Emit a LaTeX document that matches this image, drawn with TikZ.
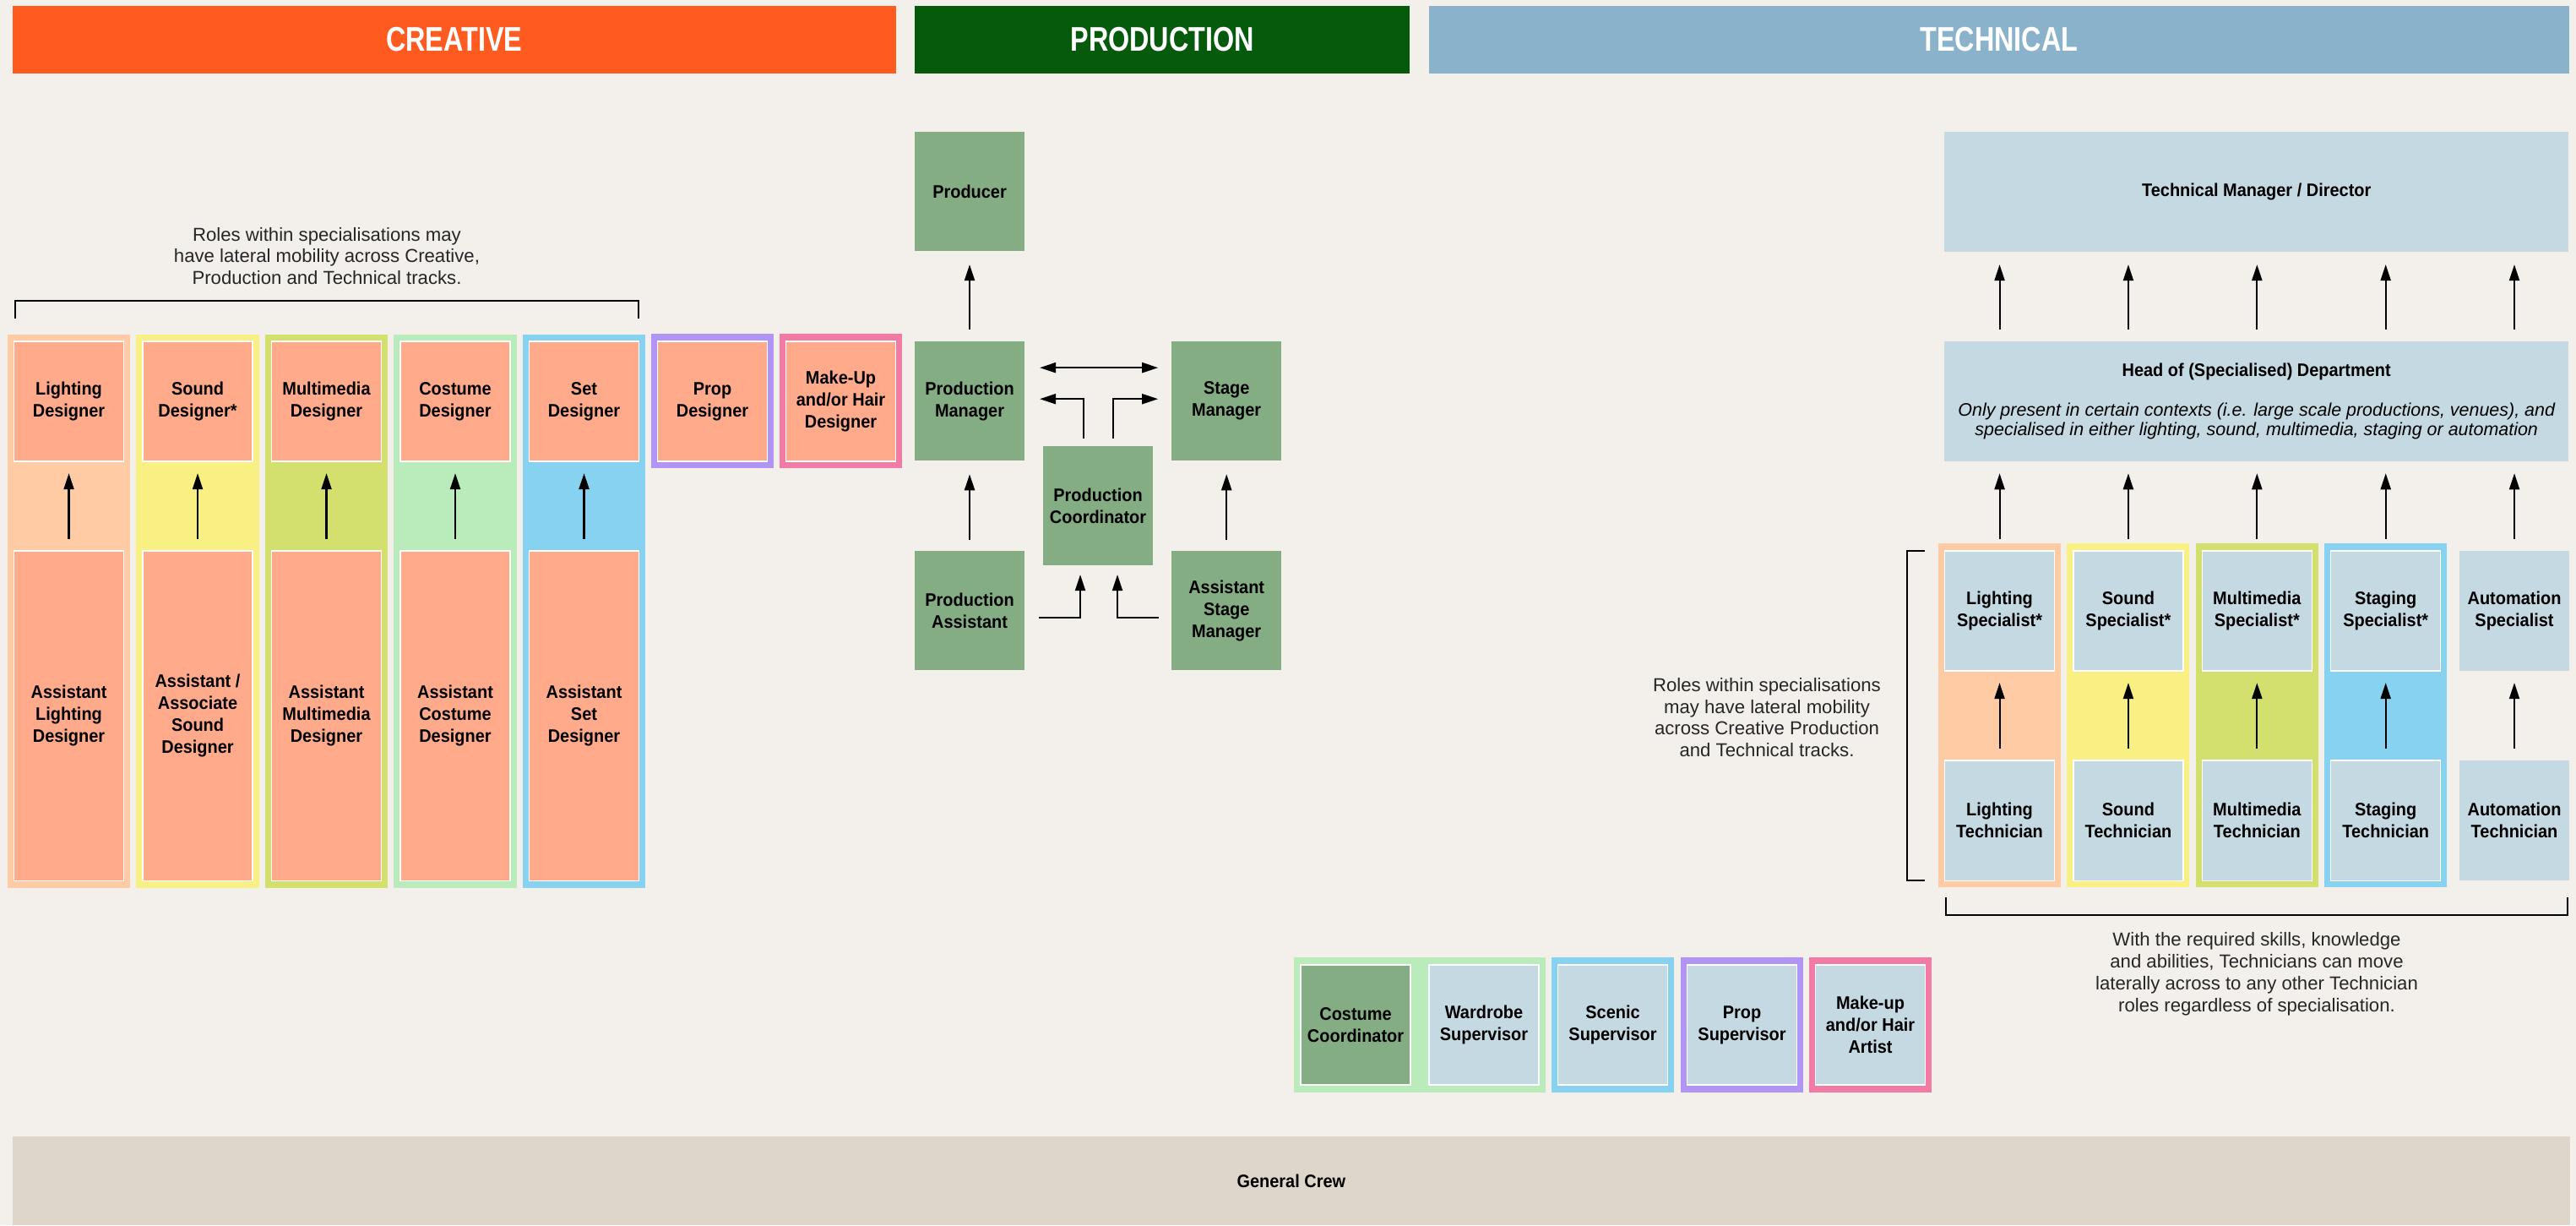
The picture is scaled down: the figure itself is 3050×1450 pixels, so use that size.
\documentclass[tikz,border=0pt]{standalone}
\usepackage{fontspec}
\setmainfont{Liberation Sans}[BoldFeatures={FakeStretch=0.93}]
\newfontfamily\headfont{Liberation Sans}[FakeStretch=0.8]
\usetikzlibrary{positioning}
\usetikzlibrary{arrows.meta}

\definecolor{paper}{HTML}{F3F0EB}
\definecolor{creative}{HTML}{FF5A1F}
\definecolor{production}{HTML}{065A0C}
\definecolor{technical}{HTML}{8AB2CB}
\definecolor{salmon}{HTML}{FFAA8A}
\definecolor{prodgreen}{HTML}{84AD84}
\definecolor{techblue}{HTML}{C4D9E2}
\definecolor{lgtfill}{HTML}{FFCBA4}
\definecolor{sndfill}{HTML}{F8F083}
\definecolor{mmfill}{HTML}{D4E06E}
\definecolor{cstfill}{HTML}{B9EBBB}
\definecolor{setfill}{HTML}{87D2F0}
\definecolor{propfill}{HTML}{B095F7}
\definecolor{mkfill}{HTML}{F27BA5}
\definecolor{crewfill}{HTML}{DED6CA}

\newcommand{\lblfont}{\fontsize{6.1}{7.4}\selectfont\bfseries}
\newcommand{\notefont}{\fontsize{6.3}{7.35}\selectfont}

\begin{document}
\begin{tikzpicture}[x=0.01cm, y=-0.01cm,
    every node/.style={inner sep=0pt, outer sep=0pt, align=center, text=black},
    head/.style={fill=#1, text=white, anchor=north west, minimum height=0.8cm,
        font=\headfont\bfseries\fontsize{11.5}{13}\selectfont},
    colbg/.style={fill=#1, anchor=north west, minimum width=1.45cm},
    role/.style={fill=#1, draw=white, line width=0.4pt, minimum width=1.3cm, minimum height=1.42cm, font=\lblfont},
    prodbox/.style={fill=prodgreen, minimum width=1.3cm, minimum height=1.41cm, font=\lblfont},
    techbox/.style={fill=techblue, minimum height=1.42cm, font=\lblfont},
    note/.style={font=\notefont, text=black!85},
    arr/.style={-{Triangle[length=0.19cm,width=0.12cm]}, line width=0.6pt},
    brk/.style={line width=0.8pt}]
    \useasboundingbox (0,0) rectangle (3050,1450);
    \fill[paper] (0,0) rectangle (3050,1450);
    % headers
    \node[head=creative, minimum width=10.45cm] (hcreative) at (15,7) {CREATIVE};
    \node[head=production, minimum width=5.86cm] (hproduction) at (1083,7) {PRODUCTION};
    \node[head=technical, minimum width=13.49cm] (htechnical) at (1692,7) {TECHNICAL};
%     % creative
    \node[note] (crenote) at (387,303) {Roles within specialisations may\\have lateral mobility across Creative,\\Production and Technical tracks.};
    \draw[brk] (18,377) -- (18,356) -- (756,356) -- (756,377);
    \node[colbg=lgtfill, minimum height=6.55cm] (lgtcol) at (9,396) {};
    \node[colbg=sndfill, minimum height=6.55cm, right=0.074cm of lgtcol] (sndcol) {};
    \node[colbg=mmfill, minimum height=6.55cm, right=0.074cm of sndcol] (mmcol) {};
    \node[colbg=cstfill, minimum height=6.55cm, right=0.074cm of mmcol] (cstcol) {};
    \node[colbg=setfill, minimum height=6.55cm, right=0.074cm of cstcol] (setcol) {};
    \node[role=salmon, below=0.08cm of lgtcol.north] (lgtdes) {Lighting\\Designer};
    \node[role=salmon, below=0.08cm of sndcol.north] (snddes) {Sound\\Designer*};
    \node[role=salmon, below=0.08cm of mmcol.north] (mmdes) {Multimedia\\Designer};
    \node[role=salmon, below=0.08cm of cstcol.north] (cstdes) {Costume\\Designer};
    \node[role=salmon, below=0.08cm of setcol.north] (setdes) {Set\\Designer};
    \node[role=salmon, minimum height=3.9cm, above=0.09cm of lgtcol.south] (lgtasst) {Assistant\\Lighting\\Designer};
    \node[role=salmon, minimum height=3.9cm, above=0.09cm of sndcol.south] (sndasst) {Assistant /\\Associate\\Sound\\Designer};
    \node[role=salmon, minimum height=3.9cm, above=0.09cm of mmcol.south] (mmasst) {Assistant\\Multimedia\\Designer};
    \node[role=salmon, minimum height=3.9cm, above=0.09cm of cstcol.south] (cstasst) {Assistant\\Costume\\Designer};
    \node[role=salmon, minimum height=3.9cm, above=0.09cm of setcol.south] (setasst) {Assistant\\Set\\Designer};
    \draw[arr] ([yshift=0.14cm]lgtasst.north) -- ([yshift=-0.14cm]lgtdes.south);
    \draw[arr] ([yshift=0.14cm]sndasst.north) -- ([yshift=-0.14cm]snddes.south);
    \draw[arr] ([yshift=0.14cm]mmasst.north) -- ([yshift=-0.14cm]mmdes.south);
    \draw[arr] ([yshift=0.14cm]cstasst.north) -- ([yshift=-0.14cm]cstdes.south);
    \draw[arr] ([yshift=0.14cm]setasst.north) -- ([yshift=-0.14cm]setdes.south);
    \node[colbg=propfill, minimum height=1.59cm] (propbg) at (771,395) {};
    \node[role=salmon, below=0.09cm of propbg.north] (propdes) {Prop\\Designer};
    \node[colbg=mkfill, minimum height=1.59cm] (mkbg) at (923,395) {};
    \node[role=salmon, below=0.09cm of mkbg.north] (mkdes) {Make-Up\\and/or Hair\\Designer};
%     % production
    \node[prodbox, anchor=north west] (producer) at (1083,156) {Producer};
    \node[prodbox, below=1.07cm of producer] (pm) {Production\\Manager};
    \node[prodbox, below=1.07cm of pm] (pa) {Production\\Assistant};
    \node[prodbox, right=1.74cm of pm] (sm) {Stage\\Manager};
    \node[prodbox, right=1.74cm of pa] (asm) {Assistant\\Stage\\Manager};
    \node[prodbox, anchor=north west] (pc) at (1235,528) {Production\\Coordinator};
    \draw[arr] ([yshift=0.14cm]pm.north) -- ([yshift=-0.16cm]producer.south);
    \draw[arr] ([yshift=0.13cm]pa.north) -- ([yshift=-0.16cm]pm.south);
    \draw[arr] ([yshift=0.13cm]asm.north) -- ([yshift=-0.16cm]sm.south);
    \draw[{Triangle[length=0.19cm,width=0.12cm]}-{Triangle[length=0.19cm,width=0.12cm]}, line width=0.6pt] ([shift={(0.18cm,0.395cm)}]pm.east) -- ([shift={(-0.16cm,0.395cm)}]sm.west);
    \draw[arr] ([shift={(-0.17cm,0.09cm)}]pc.north) |- ([shift={(0.18cm,0.025cm)}]pm.east);
    \draw[arr] ([shift={(0.18cm,0.09cm)}]pc.north) |- ([shift={(-0.16cm,0.025cm)}]sm.west);
    \draw[arr] ([shift={(0.17cm,-0.085cm)}]pa.east) -| ([shift={(-0.21cm,-0.11cm)}]pc.south);
    \draw[arr] ([shift={(-0.15cm,-0.085cm)}]asm.west) -| ([shift={(0.23cm,-0.11cm)}]pc.south);
%     % technical
    \node[techbox, anchor=north west, minimum width=7.39cm] (tmd) at (2302,156) {Technical Manager / Director};
    \node[techbox, minimum width=7.39cm, below=1.06cm of tmd, font=\fontsize{6.1}{6.6}\selectfont] (hod) {\textbf{Head of (Specialised) Department}\\[6.8pt]{\itshape Only present in certain contexts (i.e. large scale productions, venues), and}\\{\itshape specialised in either lighting, sound, multimedia, staging or automation}};
    \node[colbg=lgtfill, minimum height=4.07cm] (tlgtcol) at (2295,643) {};
    \node[colbg=sndfill, minimum height=4.07cm, right=0.073cm of tlgtcol] (tsndcol) {};
    \node[colbg=mmfill, minimum height=4.07cm, right=0.073cm of tsndcol] (tmmcol) {};
    \node[colbg=setfill, minimum height=4.07cm, right=0.073cm of tmmcol] (tstgcol) {};
    \node[role=techblue, below=0.09cm of tlgtcol.north] (lgtspec) {Lighting\\Specialist*};
    \node[role=techblue, below=0.09cm of tsndcol.north] (sndspec) {Sound\\Specialist*};
    \node[role=techblue, below=0.09cm of tmmcol.north] (mmspec) {Multimedia\\Specialist*};
    \node[role=techblue, below=0.09cm of tstgcol.north] (stgspec) {Staging\\Specialist*};
    \node[techbox, minimum width=1.3cm, anchor=north west] (autospec) at (2912,652) {Automation\\Specialist};
    \node[role=techblue, above=0.08cm of tlgtcol.south] (lgttech) {Lighting\\Technician};
    \node[role=techblue, above=0.08cm of tsndcol.south] (sndtech) {Sound\\Technician};
    \node[role=techblue, above=0.08cm of tmmcol.south] (mmtech) {Multimedia\\Technician};
    \node[role=techblue, above=0.08cm of tstgcol.south] (stgtech) {Staging\\Technician};
    \node[techbox, minimum width=1.3cm, anchor=north west] (autotech) at (2912,900) {Automation\\Technician};
    \draw[arr] ([yshift=0.14cm]lgttech.north) -- ([yshift=-0.14cm]lgtspec.south);
    \draw[arr] ([yshift=0.14cm]sndtech.north) -- ([yshift=-0.14cm]sndspec.south);
    \draw[arr] ([yshift=0.14cm]mmtech.north) -- ([yshift=-0.14cm]mmspec.south);
    \draw[arr] ([yshift=0.14cm]stgtech.north) -- ([yshift=-0.14cm]stgspec.south);
    \draw[arr] ([yshift=0.14cm]autotech.north) -- ([yshift=-0.14cm]autospec.south);
    \draw[arr] ([yshift=0.14cm]lgtspec.north) -- ([yshift=-0.14cm]hod.south -| lgtspec);
    \draw[arr] ([yshift=0.14cm]sndspec.north) -- ([yshift=-0.14cm]hod.south -| sndspec);
    \draw[arr] ([yshift=0.14cm]mmspec.north) -- ([yshift=-0.14cm]hod.south -| mmspec);
    \draw[arr] ([yshift=0.14cm]stgspec.north) -- ([yshift=-0.14cm]hod.south -| stgspec);
    \draw[arr] ([yshift=0.14cm]autospec.north) -- ([yshift=-0.14cm]hod.south -| autospec);
    \draw[arr] ([yshift=0.14cm]hod.north -| lgtspec) -- ([yshift=-0.15cm]tmd.south -| lgtspec);
    \draw[arr] ([yshift=0.14cm]hod.north -| sndspec) -- ([yshift=-0.15cm]tmd.south -| sndspec);
    \draw[arr] ([yshift=0.14cm]hod.north -| mmspec) -- ([yshift=-0.15cm]tmd.south -| mmspec);
    \draw[arr] ([yshift=0.14cm]hod.north -| stgspec) -- ([yshift=-0.15cm]tmd.south -| stgspec);
    \draw[arr] ([yshift=0.14cm]hod.north -| autospec) -- ([yshift=-0.15cm]tmd.south -| autospec);
    \draw[brk] (2279,652) -- (2258,652) -- (2258,1042) -- (2279,1042);
    \node[note] (technote) at (2092,849) {Roles within specialisations\\may have lateral mobility\\across Creative Production\\and Technical tracks.};
    \draw[brk] (2304,1062) -- (2304,1083) -- (3040,1083) -- (3040,1062);
    \node[note] (skillnote) at (2672,1153) {With the required skills, knowledge\\and abilities, Technicians can move\\laterally across to any other Technician\\roles regardless of specialisation.};
%     % support roles
    \node[colbg=cstfill, minimum width=2.98cm, minimum height=1.6cm] (cstbg) at (1532,1133) {};
    \node[role=prodgreen, anchor=north west] (cstco) at (1540,1142) {Costume\\Coordinator};
    \node[role=techblue, anchor=north west] (wardrobe) at (1692,1142) {Wardrobe\\Supervisor};
    \node[colbg=setfill, minimum height=1.6cm] (scnbg) at (1837,1133) {};
    \node[role=techblue, below=0.09cm of scnbg.north] (scenic) {Scenic\\Supervisor};
    \node[colbg=propfill, minimum height=1.6cm] (prpbg) at (1990,1133) {};
    \node[role=techblue, below=0.09cm of prpbg.north] (propsup) {Prop\\Supervisor};
    \node[colbg=mkfill, minimum height=1.6cm] (mkabg) at (2142,1133) {};
    \node[role=techblue, below=0.09cm of mkabg.north] (mkartist) {Make-up\\and/or Hair\\Artist};
    % crew
    \node[fill=crewfill, anchor=north west, minimum width=30.26cm, minimum height=1.05cm, font=\lblfont] (crew) at (15,1345) {General Crew};
\end{tikzpicture}
\end{document}
